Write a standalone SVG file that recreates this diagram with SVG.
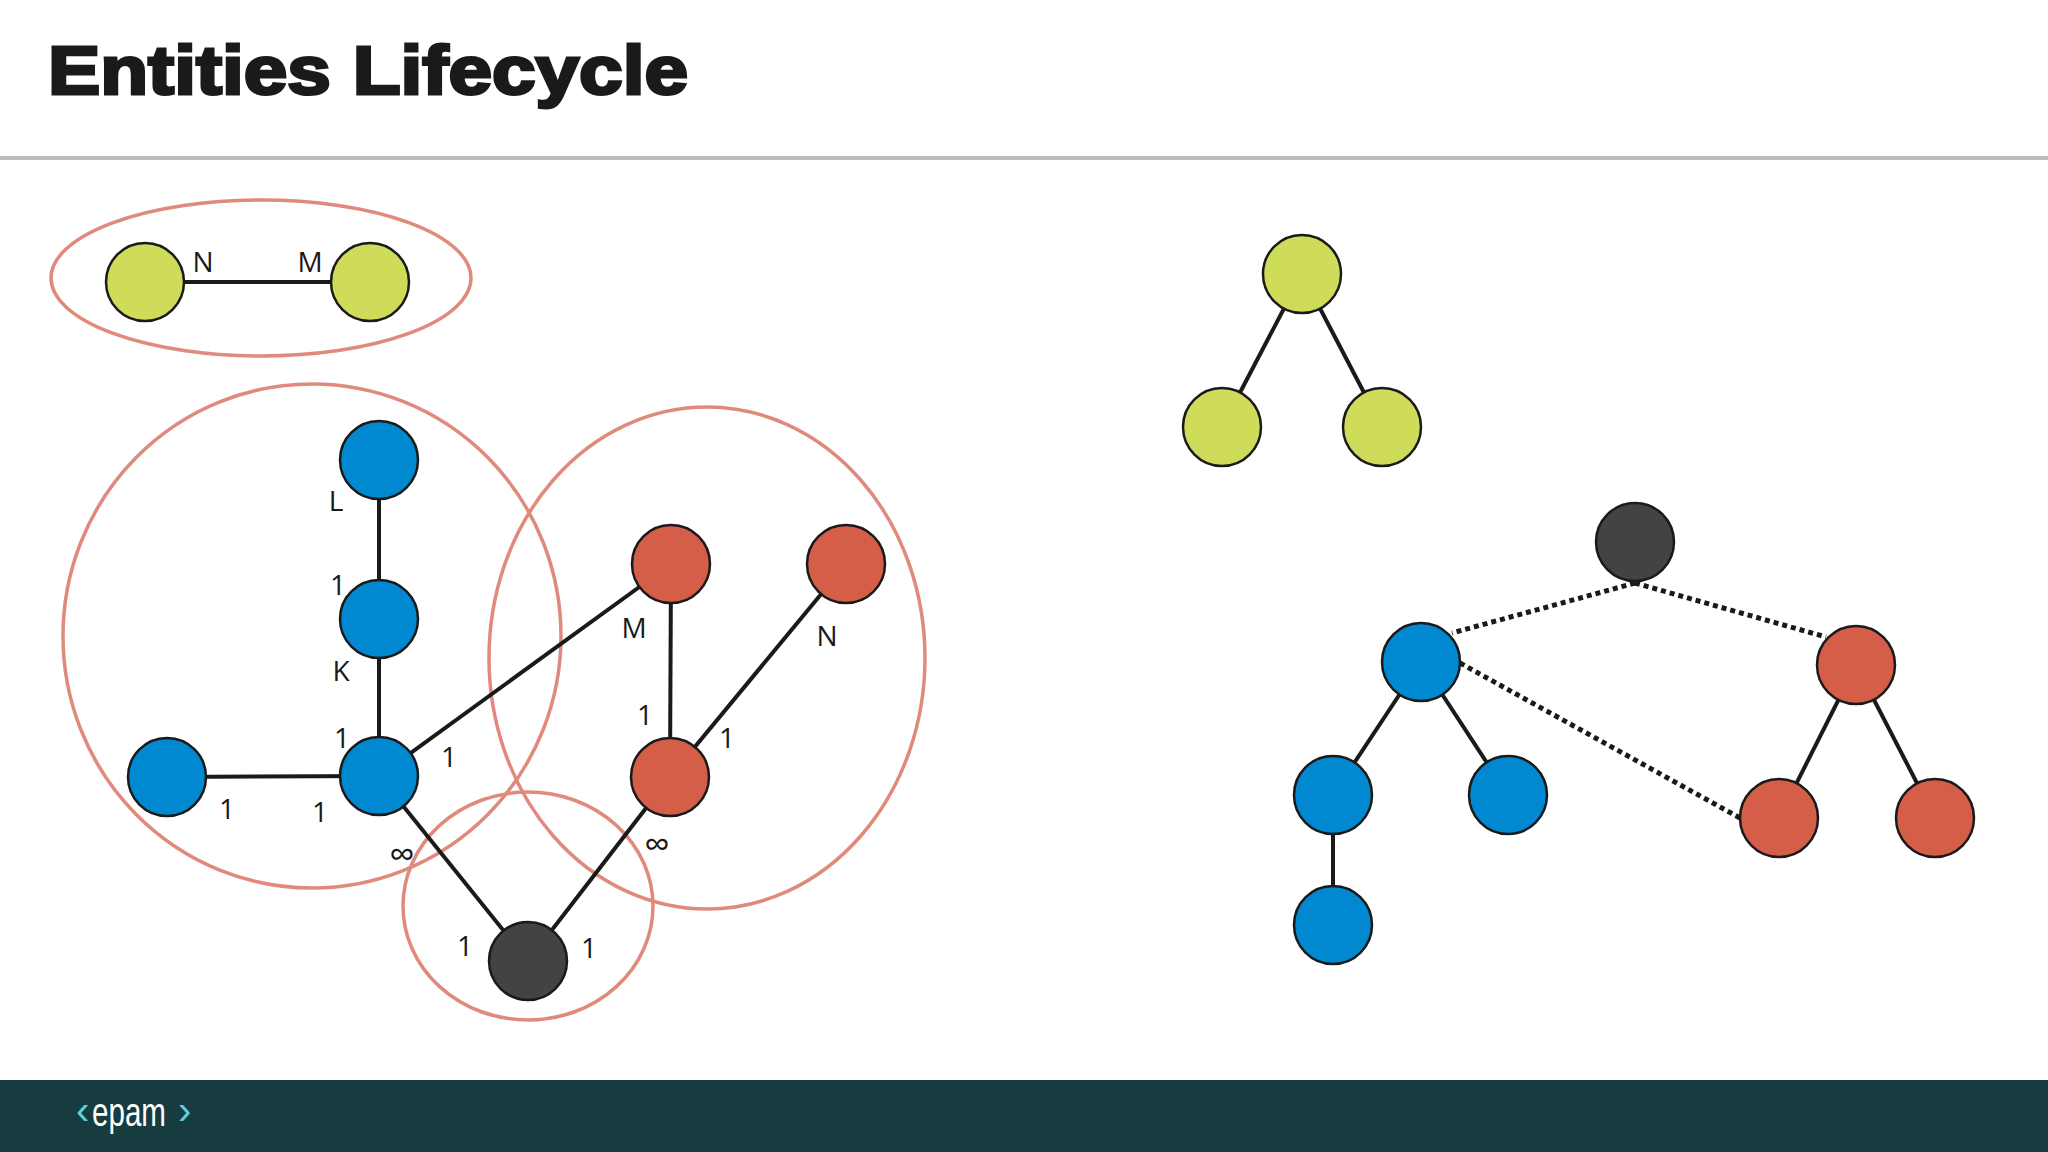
<svg xmlns="http://www.w3.org/2000/svg" width="2048" height="1152" viewBox="0 0 2048 1152">
<style>
.n{stroke:#1a1a1a;stroke-width:2.5}
.g{fill:#cfdc5a}.b{fill:#0089d0}.r{fill:#d55e48}.d{fill:#434245}
.e{stroke:#1a1a1a;stroke-width:4;fill:none}
.dot{stroke:#1a1a1a;stroke-width:5;stroke-dasharray:5 4;fill:none}
.grp{fill:none;stroke:#e08a7c;stroke-width:3.5}
.t{font-family:"Open Sans","Liberation Sans",sans-serif;font-size:28px;fill:#1a1a1a;text-anchor:middle;dominant-baseline:central}
.inf{font-size:36px}
.logo{font-family:"Liberation Sans",sans-serif;font-size:40px}
</style>
<rect width="2048" height="1152" fill="#fff"/>
<text x="48" y="94" font-family="Liberation Sans,Arial,sans-serif" font-weight="900" font-size="68" fill="#1a1a1a" stroke="#1a1a1a" stroke-width="3" textLength="640" lengthAdjust="spacingAndGlyphs">Entities Lifecycle</text>
<rect x="0" y="156" width="2048" height="4" fill="#bdbdbd"/>
<rect x="0" y="1080" width="2048" height="72" fill="#163c40"/>
<text class="logo" x="76" y="1124" fill="#5dd0e0">‹</text>
<text class="logo" x="92" y="1126" fill="#fff" textLength="74" lengthAdjust="spacingAndGlyphs">epam</text>
<text class="logo" x="178" y="1124" fill="#5dd0e0">›</text>
<g id="groups">
<ellipse class="grp" cx="261" cy="278" rx="210" ry="78"/>
<ellipse class="grp" cx="312" cy="636" rx="249" ry="252"/>
<ellipse class="grp" cx="707" cy="658" rx="218" ry="251"/>
<ellipse class="grp" cx="528" cy="906" rx="125" ry="114"/>
</g>
<g id="connectors">
<line class="e" x1="145" y1="282" x2="370" y2="282"/>
<line class="e" x1="379" y1="460" x2="379" y2="776"/>
<line class="e" x1="167" y1="777" x2="379" y2="776"/>
<line class="e" x1="379" y1="776" x2="671" y2="564"/>
<line class="e" x1="671" y1="564" x2="670" y2="777"/>
<line class="e" x1="846" y1="564" x2="670" y2="777"/>
<line class="e" x1="379" y1="776" x2="528" y2="961"/>
<line class="e" x1="670" y1="777" x2="528" y2="961"/>
<line class="e" x1="1302" y1="274" x2="1222" y2="427"/>
<line class="e" x1="1302" y1="274" x2="1382" y2="427"/>
<line class="e" x1="1421" y1="662" x2="1333" y2="795"/>
<line class="e" x1="1421" y1="662" x2="1508" y2="795"/>
<line class="e" x1="1333" y1="795" x2="1333" y2="925"/>
<line class="e" x1="1856" y1="665" x2="1779" y2="818"/>
<line class="e" x1="1856" y1="665" x2="1935" y2="818"/>
<line class="dot" x1="1635" y1="583" x2="1452" y2="633"/>
<line class="dot" x1="1635" y1="583" x2="1826" y2="637"/>
<line class="dot" x1="1460" y1="663" x2="1740" y2="818"/>
</g>
<g id="n1"><ellipse class="n g" cx="145" cy="282" rx="39" ry="39"/></g>
<g id="n2"><ellipse class="n g" cx="370" cy="282" rx="39" ry="39"/></g>
<g id="n3"><ellipse class="n b" cx="379" cy="460" rx="39" ry="39"/></g>
<g id="n4"><ellipse class="n b" cx="379" cy="619" rx="39" ry="39"/></g>
<g id="n5"><ellipse class="n b" cx="167" cy="777" rx="39" ry="39"/></g>
<g id="n6"><ellipse class="n b" cx="379" cy="776" rx="39" ry="39"/></g>
<g id="n7"><ellipse class="n r" cx="671" cy="564" rx="39" ry="39"/></g>
<g id="n8"><ellipse class="n r" cx="846" cy="564" rx="39" ry="39"/></g>
<g id="n9"><ellipse class="n r" cx="670" cy="777" rx="39" ry="39"/></g>
<g id="n10"><ellipse class="n d" cx="528" cy="961" rx="39" ry="39"/></g>
<g id="n11"><ellipse class="n g" cx="1302" cy="274" rx="39" ry="39"/></g>
<g id="n12"><ellipse class="n g" cx="1222" cy="427" rx="39" ry="39"/></g>
<g id="n13"><ellipse class="n g" cx="1382" cy="427" rx="39" ry="39"/></g>
<g id="n14"><ellipse class="n d" cx="1635" cy="542" rx="39" ry="39"/></g>
<g id="n15"><ellipse class="n b" cx="1421" cy="662" rx="39" ry="39"/></g>
<g id="n16"><ellipse class="n r" cx="1856" cy="665" rx="39" ry="39"/></g>
<g id="n17"><ellipse class="n b" cx="1333" cy="795" rx="39" ry="39"/></g>
<g id="n18"><ellipse class="n b" cx="1508" cy="795" rx="39" ry="39"/></g>
<g id="n19"><ellipse class="n b" cx="1333" cy="925" rx="39" ry="39"/></g>
<g id="n20"><ellipse class="n r" cx="1779" cy="818" rx="39" ry="39"/></g>
<g id="n21"><ellipse class="n r" cx="1935" cy="818" rx="39" ry="39"/></g>
<g id="labels">
<text class="t" x="203" y="261">N</text>
<text class="t" x="310" y="261">M</text>
<text class="t" x="336" y="500">L</text>
<text class="t" x="338" y="584">1</text>
<text class="t" x="341" y="670">K</text>
<text class="t" x="342" y="737">1</text>
<text class="t" x="449" y="756">1</text>
<text class="t" x="227" y="808">1</text>
<text class="t" x="320" y="811">1</text>
<text class="t inf" x="402" y="853">∞</text>
<text class="t" x="465" y="945">1</text>
<text class="t" x="589" y="947">1</text>
<text class="t inf" x="657" y="843">∞</text>
<text class="t" x="634" y="627">M</text>
<text class="t" x="827" y="635">N</text>
<text class="t" x="645" y="714">1</text>
<text class="t" x="727" y="737">1</text>
</g>
</svg>
